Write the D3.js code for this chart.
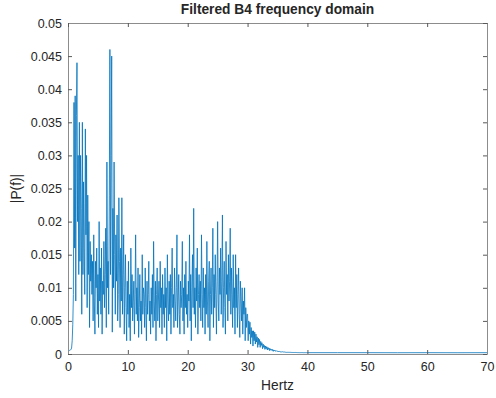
<!DOCTYPE html>
<html>
<head>
<meta charset="utf-8">
<script src="https://cdn.jsdelivr.net/npm/d3@7"></script>
<style>
  body { margin: 0; background: #fff; }
  text { font-family: "Liberation Sans", Arial, sans-serif; fill: #262626; }
  .line { fill: none; stroke: #0072BD; stroke-width: 0.8px; stroke-linejoin: round; }
</style>
</head>
<body>
<script>
// spectrum bins, 0.1 Hz apart from 0 to 39.9 Hz, magnitudes in thousandths
const binHz = 0.1;
const magMilli = [
  0.5,0.5,0.5,0.6,0.6,0.7,0.9,2.0,4.5,9,
  38,16,39,8,36,44,20,30,12,35,
  14,30,22,6,35,12,26,16,9,34,
  18,30,7,24,12,20,4,17,11,15,
  9,14,5,18,8,3,14,10,16,6,
  12,4,20,8,13,6,16,3,11,9,
  17,7,12,19,4,29,10,14,6,24,
  46,12,30,45,3.3,22,10,29,15,6,
  18,11,21,5,9,23.6,14,4,16,8,
  23.6,6,12,18,3,10,15,7,2,11,
  6,14,4,9,2,16,7,12,5,8,
  11,3,9,18,6,10,5,13,2.5,7,
  12,5,8,3,15,6,10,9,4,13,
  7,2,11,6,9,14,5,8,3,10,
  6,12,4,17,8,5,11,2,9,13,
  5,8,11,4,14,7,10,3,12,6,
  9,4,13,7,10,2,15,8,5,11,
  6,12,3,10,16,7,9,4,13,8,
  5,10,18,4,8,12,6,3,11,7,
  9,17,5,10,3,12,7,14,6,9,
  4,11,8,18,5,12,2,10,15,7,
  22,6,10,4,13,8,16,3,9,12,
  7,11,5,18,9,4,13,7,10,3,
  12,6,17,8,4,11,14,2,9,13,
  6,10,19,4,12,7,15,9,3,11,
  20,8,5,13,9,16,6,11,21,4,
  10,14,7,3,17,9,12,5,15,8,
  11,19,6,13,9,4,15,7,10,3,
  15,7,12,4,9,13,6,2.5,11,8,
  5,10,3,8,6,10,2,7,4,6,
  6,2,5,3,4.8,1.5,4,2.5,3.5,1.2,
  3.5,2,3.3,1.5,3,1.8,2.6,1,2.4,1.4,
  2.2,1,1.9,1.3,1.7,0.8,1.5,1,1.3,0.7,
  1.2,0.8,1.1,0.6,1,0.7,0.9,0.5,0.8,0.6,
  0.7,0.5,0.7,0.4,0.6,0.45,0.55,0.4,0.5,0.4,
  0.45,0.35,0.45,0.3,0.4,0.32,0.38,0.3,0.35,0.3,
  0.3,0.28,0.3,0.26,0.28,0.25,0.27,0.25,0.26,0.24,
  0.25,0.24,0.25,0.23,0.24,0.23,0.24,0.22,0.23,0.22,
  0.23,0.22,0.22,0.21,0.22,0.21,0.22,0.2,0.21,0.2,
  0.21,0.2,0.21,0.2,0.2,0.2,0.21,0.2,0.2,0.2
];
// flat tail past 40 Hz
const tailHz = [45, 50, 55, 60, 65, 70];
const tailMilli = [0.2, 0.2, 0.19, 0.2, 0.19, 0.2];

const xTicks = [0, 10, 20, 30, 40, 50, 60, 70];
const yTicks = [0, 0.005, 0.01, 0.015, 0.02, 0.025, 0.03, 0.035, 0.04, 0.045, 0.05];

const config = {
  margin: [23, 9, 44, 68],
  width: 496,
  height: 398
};
const rw = config.width - config.margin[1] - config.margin[3];
const rh = config.height - config.margin[0] - config.margin[2];

const data = magMilli.map((m, i) => ({ f: i * binHz, p: m / 1000 }))
  .concat(tailHz.map((f, i) => ({ f: f, p: tailMilli[i] / 1000 })));

const svg = d3.select('body')
  .append('svg')
  .attr('width', config.width)
  .attr('height', config.height);

const g = svg.append('g')
  .attr('transform', `translate(${config.margin[3]}, ${config.margin[0]})`);

const x = d3.scaleLinear().domain([0, 70]).range([0, rw]);
const y = d3.scaleLinear().domain([0, 0.05]).range([rh, 0]);

const line = d3.line()
  .x(d => x(d.f))
  .y(d => y(d.p));

g.append('path')
  .datum(data)
  .attr('class', 'line')
  .attr('d', line);

const tickLen = 4;
const fmt = d => d === 0 ? '0' : String(+d.toFixed(3));

function styleAxis(sel) {
  sel.select('.domain').attr('stroke', '#8c8c8c');
  sel.selectAll('.tick line').attr('stroke', '#595959');
  sel.selectAll('text').attr('font-size', 12.5).attr('fill', '#404040')
    .style('font-family', '"Liberation Sans", Arial, sans-serif');
}

// bottom / left with labels, top / right mirrored ticks only
g.append('g')
  .attr('transform', `translate(0, ${rh})`)
  .call(d3.axisBottom(x).tickValues(xTicks).tickFormat(d3.format('d'))
    .tickSizeInner(-tickLen).tickSizeOuter(0).tickPadding(8))
  .call(styleAxis);

g.append('g')
  .call(d3.axisLeft(y).tickValues(yTicks).tickFormat(fmt)
    .tickSizeInner(-tickLen).tickSizeOuter(0).tickPadding(6))
  .call(styleAxis);

g.append('g')
  .call(d3.axisTop(x).tickValues(xTicks).tickFormat('')
    .tickSizeInner(-tickLen).tickSizeOuter(0))
  .call(styleAxis);

g.append('g')
  .attr('transform', `translate(${rw}, 0)`)
  .call(d3.axisRight(y).tickValues(yTicks).tickFormat('')
    .tickSizeInner(-tickLen).tickSizeOuter(0))
  .call(styleAxis);

// labels
svg.append('text')
  .attr('x', config.margin[3] + rw / 2)
  .attr('y', 14)
  .attr('text-anchor', 'middle')
  .attr('font-size', 13.75)
  .attr('font-weight', 'bold')
  .attr('fill', '#000')
  .text('Filtered B4 frequency domain');

svg.append('text')
  .attr('x', config.margin[3] + rw / 2)
  .attr('y', 390)
  .attr('text-anchor', 'middle')
  .attr('font-size', 13.75)
  .attr('fill', '#404040')
  .text('Hertz');

svg.append('text')
  .attr('transform', `translate(21, ${config.margin[0] + rh / 2}) rotate(-90)`)
  .attr('text-anchor', 'middle')
  .attr('font-size', 13.75)
  .attr('fill', '#404040')
  .text('|P(f)|');
</script>
</body>
</html>
